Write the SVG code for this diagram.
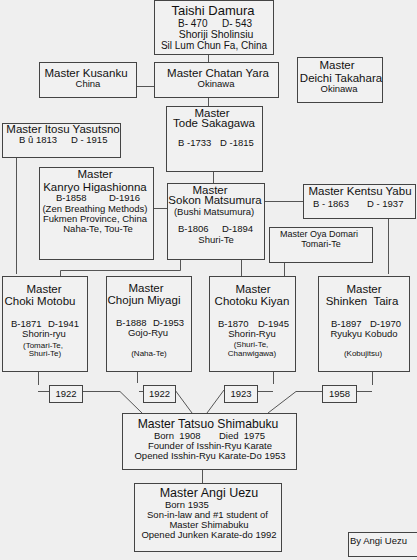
<svg xmlns="http://www.w3.org/2000/svg" width="417" height="560" viewBox="0 0 417 560">
<style>
.bx{fill:#f1f1f1;stroke:#444;stroke-width:1}
.ln{stroke:#555;stroke-width:1;fill:none}
text{font-family:"Liberation Sans",Arial,sans-serif;fill:#111}
.t{font-size:11.5px;text-anchor:middle}
.tl{font-size:11.5px}
.s{font-size:9.5px;text-anchor:middle}
.sl{font-size:9.5px}
.x{font-size:8px;text-anchor:middle}
</style>
<rect x="0" y="0" width="417" height="560" fill="#efefef"/>
<g id="connectors">
<path class="ln" d="M208.5 54.5V62 M136 86.5H154 M208.5 97V106 M213.5 171V183 M153 208.5H167 M264 201.5H303 M16.5 157V274 M388.5 218V274 M180.5 259V270.5H60.5V276 M241.5 259V276 M284.5 262V276"/>
<path class="ln" d="M38.5 371V385 M38 391.5H49 M82 391.5H120L142 413 M137.5 371V383 M139 391.5H143 M175 390L192 413 M273.5 371V384 M257 391.5H273 M224 390L207 413 M372.5 371V385 M356 391.5H372 M322 391.5H296L268 413 M202.5 469V483"/>
</g>
<g id="taishi">
<rect class="bx" x="154.5" y="0.5" width="119" height="54"/>
<text class="t" x="213" y="15" style="font-size:13px">Taishi Damura</text>
<text class="sl" x="178" y="27" style="font-size:10px">B- 470</text>
<text class="sl" x="222" y="27" style="font-size:10px">D- 543</text>
<text class="s" x="216" y="38" style="font-size:10.5px">Shoriji Sholinsiu</text>
<text class="s" x="214" y="49" style="font-size:10px">Sil Lum Chun Fa, China</text>
</g>
<g id="kusanku">
<rect class="bx" x="39.5" y="62.5" width="97" height="35"/>
<text class="t" x="86" y="77">Master Kusanku</text>
<text class="s" x="88" y="87">China</text>
</g>
<g id="chatan">
<rect class="bx" x="154.5" y="62.5" width="124" height="35"/>
<text class="t" x="218" y="77">Master Chatan Yara</text>
<text class="s" x="216" y="87">Okinawa</text>
</g>
<g id="deichi">
<rect class="bx" x="297.5" y="57.5" width="85" height="45"/>
<text class="t" x="337" y="69">Master</text>
<text class="t" x="341" y="82">Deichi Takahara</text>
<text class="s" x="339" y="92">Okinawa</text>
</g>
<g id="tode">
<rect class="bx" x="166.5" y="106.5" width="96" height="65"/>
<text class="t" x="212" y="116.5">Master</text>
<text class="t" x="214" y="127">Tode Sakagawa</text>
<text class="sl" x="178" y="146">B -1733</text>
<text class="sl" x="220" y="146">D -1815</text>
</g>
<g id="itosu">
<rect class="bx" x="2.5" y="123.5" width="118" height="34"/>
<text class="t" x="63" y="133">Master Itosu Yasutsno</text>
<text class="sl" x="19" y="143">B û 1813</text>
<text class="sl" x="71" y="143">D - 1915</text>
</g>
<g id="kanryo">
<rect class="bx" x="39.5" y="167.5" width="114" height="92"/>
<text class="t" x="95" y="178">Master</text>
<text class="t" x="95" y="191">Kanryo Higashionna</text>
<text class="sl" x="56" y="201">B-1858</text>
<text class="sl" x="109" y="201">D-1916</text>
<text class="s" x="95" y="212">(Zen Breathing Methods)</text>
<text class="s" x="95" y="222">Fukmen Province, China</text>
<text class="s" x="98" y="232">Naha-Te, Tou-Te</text>
</g>
<g id="sokon">
<rect class="bx" x="167.5" y="183.5" width="97" height="76"/>
<text class="t" x="210" y="193.5">Master</text>
<text class="t" x="215" y="204">Sokon Matsumura</text>
<text class="s" x="214" y="215">(Bushi Matsumura)</text>
<text class="sl" x="178" y="232">B-1806</text>
<text class="sl" x="222" y="232">D-1894</text>
<text class="s" x="216" y="243">Shuri-Te</text>
</g>
<g id="kentsu">
<rect class="bx" x="303.5" y="184.5" width="112" height="34"/>
<text class="t" x="360" y="195">Master Kentsu Yabu</text>
<text class="sl" x="313" y="207">B - 1863</text>
<text class="sl" x="367" y="207">D - 1937</text>
</g>
<g id="oya">
<rect class="bx" x="269.5" y="227.5" width="103" height="35"/>
<text class="s" x="319" y="237" style="font-size:9px">Master Oya Domari</text>
<text class="s" x="321" y="247" style="font-size:9px">Tomari-Te</text>
</g>
<g id="choki">
<rect class="bx" x="2.5" y="276.5" width="85" height="95"/>
<text class="t" x="44" y="293">Master</text>
<text class="t" x="40" y="305">Choki Motobu</text>
<text class="sl" x="11" y="327">B-1871</text>
<text class="sl" x="48" y="327">D-1941</text>
<text class="s" x="44" y="337">Shorin-ryu</text>
<text class="x" x="43" y="348">(Tomari-Te,</text>
<text class="x" x="45" y="356">Shuri-Te)</text>
</g>
<g id="chojun">
<rect class="bx" x="106.5" y="276.5" width="85" height="95"/>
<text class="t" x="146" y="292">Master</text>
<text class="t" x="144" y="304">Chojun Miyagi</text>
<text class="sl" x="116" y="325.5">B-1888</text>
<text class="sl" x="153" y="325.5">D-1953</text>
<text class="s" x="148" y="336">Gojo-Ryu</text>
<text class="x" x="149" y="356">(Naha-Te)</text>
</g>
<g id="chotoku">
<rect class="bx" x="209.5" y="276.5" width="86" height="95"/>
<text class="t" x="253" y="293">Master</text>
<text class="t" x="252" y="305">Chotoku Kiyan</text>
<text class="sl" x="218" y="327">B-1870</text>
<text class="sl" x="258" y="327">D-1945</text>
<text class="s" x="252" y="337">Shorin-Ryu</text>
<text class="x" x="251" y="347">(Shuri-Te,</text>
<text class="x" x="252" y="356">Chanwigawa)</text>
</g>
<g id="shinken">
<rect class="bx" x="318.5" y="276.5" width="91" height="95"/>
<text class="t" x="364" y="293">Master</text>
<text class="t" x="362" y="305" style="white-space:pre">Shinken  Taira</text>
<text class="sl" x="331" y="327">B-1897</text>
<text class="sl" x="370" y="327">D-1970</text>
<text class="s" x="364" y="337">Ryukyu Kobudo</text>
<text class="x" x="363" y="356">(Kobujitsu)</text>
</g>
<g id="y1">
<rect class="bx" x="49.5" y="385.5" width="33" height="17"/>
<text class="s" x="66" y="397">1922</text>
</g>
<g id="y2">
<rect class="bx" x="143.5" y="385.5" width="32" height="17"/>
<text class="s" x="159.5" y="397">1922</text>
</g>
<g id="y3">
<rect class="bx" x="224.5" y="385.5" width="33" height="17"/>
<text class="s" x="241" y="397">1923</text>
</g>
<g id="y4">
<rect class="bx" x="322.5" y="385.5" width="34" height="17"/>
<text class="s" x="339.5" y="397">1958</text>
</g>
<g id="tatsuo">
<rect class="bx" x="122.5" y="413.5" width="174" height="56"/>
<text class="t" x="208" y="427.5" style="font-size:12.2px">Master Tatsuo Shimabuku</text>
<text class="sl" x="154" y="438.5" style="white-space:pre">Born  1908</text>
<text class="sl" x="219" y="438.5" style="white-space:pre">Died  1975</text>
<text class="s" x="210" y="448.5">Founder of Isshin-Ryu Karate</text>
<text class="s" x="210" y="459">Opened Isshin-Ryu Karate-Do 1953</text>
</g>
<g id="angi">
<rect class="bx" x="134.5" y="483.5" width="147" height="68"/>
<text class="t" x="209" y="496.5" style="font-size:12.5px">Master Angi Uezu</text>
<text class="sl" x="165" y="507.5">Born 1935</text>
<text class="s" x="207.5" y="518">Son-in-law and #1 student of</text>
<text class="s" x="209" y="528">Master Shimabuku</text>
<text class="s" x="209" y="538">Opened Junken Karate-do 1992</text>
</g>
<g id="by">
<rect class="bx" x="348.5" y="532.5" width="70" height="24"/>
<text class="sl" x="350" y="544">By Angi Uezu</text>
</g>
</svg>
